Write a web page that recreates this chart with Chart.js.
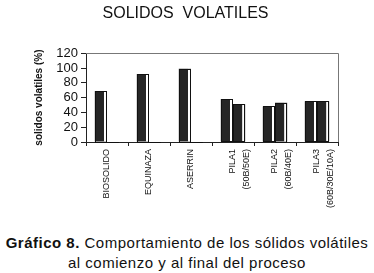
<!DOCTYPE html>
<html>
<head>
<meta charset="utf-8">
<script src="https://cdn.jsdelivr.net/npm/chart.js@4/dist/chart.umd.min.js"></script>
<style>
  body { margin: 0; background: #fff; }
  #wrap { position: relative; width: 374px; height: 273px; }
  #chart-box { position: absolute; left: 0; top: 0; width: 374px; height: 215px; }
  #caption {
    position: absolute; left: 0; top: 233px; width: 374px;
    font-family: "Liberation Sans", Arial, sans-serif; font-size: 15px;
    letter-spacing: 0.5px; line-height: 20px; text-align: center; color: #111;
  }
</style>
</head>
<body>
<div id="wrap">
  <div id="chart-box"><canvas id="solidsChart" width="374" height="215"></canvas></div>
  <div id="caption"><b>Gráfico 8.</b> Comportamiento de los sólidos volátiles<br>al comienzo y al final del proceso</div>
</div>
<script>
const categories = [
    ['BIOSOLIDO'],
    ['EQUINAZA'],
    ['ASERRIN'],
    ['PILA1', '(50B/50E)'],
    ['PILA2', '(60B/40E)'],
    ['PILA3', '(60B/30E/10A)']
];
const initialValues = [69, 92, 99, 58, 48, 55];
const finalValues = [null, null, null, 51, 53, 55];
const yTicks = [0, 20, 40, 60, 80, 100, 120];

const FONT = '"Liberation Sans", Arial, sans-serif';

// plot frame (top / right lines) and the white right side of each bar
const framePlugin = {
    id: 'framePlugin',
    afterDatasetsDraw(chart) {
        const ctx = chart.ctx;
        chart.data.datasets.forEach((ds, i) => {
            chart.getDatasetMeta(i).data.forEach(bar => {
                if (bar.skip) return;
                const p = bar.getProps(['x', 'y', 'base', 'width'], true);
                const left = p.x - p.width / 2;
                const h = p.base - p.y;
                ctx.save();
                ctx.fillStyle = '#fff';
                ctx.fillRect(left + p.width - 3, p.y, 3, h);
                ctx.strokeStyle = '#111';
                ctx.lineWidth = 1;
                ctx.strokeRect(Math.round(left) + 0.5, Math.round(p.y) + 0.5, Math.round(p.width) - 1, Math.round(h));
                ctx.restore();
            });
        });
        const a = chart.chartArea;
        ctx.save();
        ctx.strokeStyle = '#777';
        ctx.lineWidth = 1;
        ctx.beginPath();
        ctx.moveTo(a.left, Math.round(a.top) + 0.5);
        ctx.lineTo(Math.round(a.right) + 0.5, Math.round(a.top) + 0.5);
        ctx.lineTo(Math.round(a.right) + 0.5, a.bottom);
        ctx.stroke();
        ctx.restore();
    }
};

new Chart(document.getElementById('solidsChart').getContext('2d'), {
    type: 'bar',
    data: {
        labels: categories,
        datasets: [{
            label: 'comienzo',
            data: initialValues,
            backgroundColor: '#262626',
            borderWidth: 0
        }, {
            label: 'final',
            data: finalValues,
            backgroundColor: '#262626',
            borderWidth: 0
        }]
    },
    options: {
        responsive: false,
        animation: false,
        layout: { padding: { left: 33, right: 36, top: 0, bottom: 0 } },
        datasets: {
            bar: { barPercentage: 1, categoryPercentage: 0.58 }
        },
        scales: {
            x: {
                grid: {
                    offset: true,
                    drawOnChartArea: false,
                    tickLength: 4,
                    color: '#222'
                },
                border: { color: '#222' },
                ticks: {
                    maxRotation: 90,
                    minRotation: 90,
                    autoSkip: false,
                    padding: 3,
                    color: '#111',
                    font: { family: FONT, size: 9, lineHeight: 1.45 }
                },
                afterFit: scale => { scale.height = 73; }
            },
            y: {
                min: 0,
                max: 120,
                afterBuildTicks: scale => { scale.ticks = yTicks.map(v => ({ value: v })); },
                grid: {
                    drawOnChartArea: false,
                    tickLength: 5,
                    color: '#222'
                },
                border: { color: '#222' },
                ticks: {
                    autoSkip: false,
                    padding: 3,
                    color: '#111',
                    font: { family: FONT, size: 13 }
                },
                title: {
                    display: true,
                    text: 'solidos volatiles (%)',
                    padding: 0,
                    color: '#111',
                    font: { family: FONT, size: 10, weight: 'bold' }
                },
                afterFit: scale => { scale.width = 53; }
            }
        },
        plugins: {
            legend: { display: false },
            tooltip: { enabled: false },
            title: {
                display: true,
                text: 'SOLIDOS  VOLATILES',
                color: '#111',
                padding: { top: 4, bottom: 30 },
                font: { family: FONT, size: 16, weight: 'normal' }
            }
        }
    },
    plugins: [framePlugin]
});
</script>
</body>
</html>
